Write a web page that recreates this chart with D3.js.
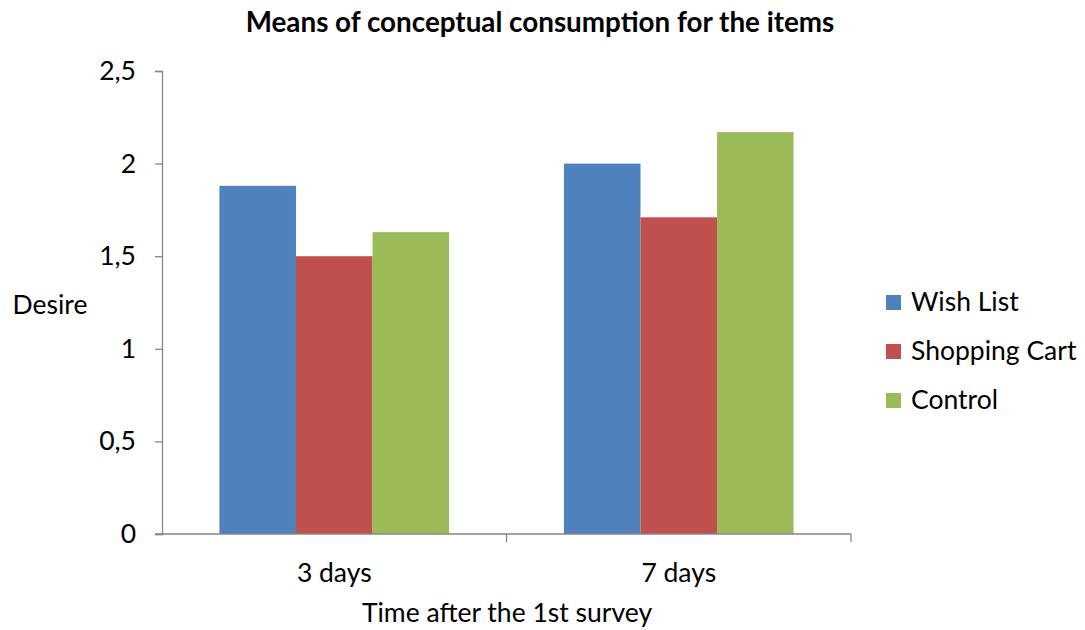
<!DOCTYPE html>
<html>
<head>
<meta charset="utf-8">
<script src="https://cdn.jsdelivr.net/npm/d3@7"></script>
<style>
  body { margin: 0; background: #fff; }
  svg { display: block; }
  text { font-family: Lato, "Open Sans", sans-serif; fill: #000; }
</style>
</head>
<body>
<svg id="chart" width="1085" height="630"></svg>
<script>
// Mean desire scores by time point and group
const categories = ["3 days", "7 days"];
const seriesNames = ["Wish List", "Shopping Cart", "Control"];
const wishList = [1.88, 2.0];
const shoppingCart = [1.5, 1.71];
const control = [1.63, 2.17];
const yTicks = [0, 0.5, 1, 1.5, 2, 2.5];
const colors = ["#4F81BD", "#C0504D", "#9BBB59"];

const seriesValues = [wishList, shoppingCart, control];

const svg = d3.select("#chart");
const plot = { left: 162, right: 851, top: 71, bottom: 534 };
const fontSize = 26.5;

const x = d3.scaleBand().domain(categories).range([plot.left, plot.right]).paddingInner(0).paddingOuter(0);
const inner = d3.scaleBand().domain(seriesNames).range([0, x.bandwidth()]).paddingInner(0).paddingOuter(0.75);
const y = d3.scaleLinear().domain([0, 2.5]).range([plot.bottom, plot.top]);

// Bars
const rows = categories.map((c, i) => ({ cat: c, vals: seriesNames.map((s, j) => ({ s, v: seriesValues[j][i], c: colors[j] })) }));
svg.append("g").selectAll("g").data(rows).join("g")
  .attr("transform", d => `translate(${x(d.cat)},0)`)
  .selectAll("rect").data(d => d.vals).join("rect")
  .attr("x", d => inner(d.s))
  .attr("width", inner.bandwidth())
  .attr("y", d => y(d.v))
  .attr("height", d => y(0) - y(d.v))
  .attr("fill", d => d.c);

// Y axis
const fmt = v => String(v).replace(".", ",");
const yAxis = svg.append("g").attr("transform", `translate(${plot.left},0)`)
  .call(d3.axisLeft(y).tickValues(yTicks).tickFormat(fmt).tickSize(7).tickPadding(19));
yAxis.select(".domain").attr("stroke", "#868686").attr("stroke-width", 1.3);
yAxis.selectAll(".tick line").attr("stroke", "#868686").attr("stroke-width", 1.3);
yAxis.selectAll(".tick text").attr("font-size", fontSize).attr("font-family", "Lato, sans-serif").attr("fill", "#000");

// X axis with boundary ticks between categories
const xAxis = svg.append("g").attr("transform", `translate(0,${plot.bottom})`);
xAxis.append("line").attr("x1", plot.left - 7).attr("x2", plot.right).attr("stroke", "#868686").attr("stroke-width", 1.3);
const bounds = categories.map(c => x(c)).concat([x(categories[categories.length - 1]) + x.bandwidth()]);
xAxis.selectAll("line.b").data(bounds.slice(1)).join("line").attr("class", "b")
  .attr("x1", d => d).attr("x2", d => d).attr("y1", 0).attr("y2", 8)
  .attr("stroke", "#868686").attr("stroke-width", 1.3);
xAxis.selectAll("text").data(categories).join("text")
  .attr("x", d => x(d) + x.bandwidth() / 2)
  .attr("y", 48)
  .attr("text-anchor", "middle")
  .attr("font-size", fontSize)
  .text(d => d);

// Titles
svg.append("text").attr("x", 540).attr("y", 32).attr("text-anchor", "middle")
  .attr("font-size", 27.8).attr("font-weight", "bold").text("Means of conceptual consumption for the items");
svg.append("text").attr("x", 50).attr("y", 314).attr("text-anchor", "middle")
  .attr("font-size", fontSize).text("Desire");
svg.append("text").attr("x", 507).attr("y", 622).attr("text-anchor", "middle")
  .attr("font-size", fontSize).text("Time after the 1st survey");

// Legend
const legend = svg.append("g").attr("transform", "translate(886,0)");
const ly = [311, 360, 409];
const item = legend.selectAll("g").data(seriesNames).join("g")
  .attr("transform", (d, i) => `translate(0,${ly[i]})`);
item.append("rect").attr("x", 0).attr("y", -16).attr("width", 15).attr("height", 15).attr("fill", (d, i) => colors[i]);
item.append("text").attr("x", 25).attr("y", 0).attr("font-size", fontSize).text(d => d);
</script>
</body>
</html>
